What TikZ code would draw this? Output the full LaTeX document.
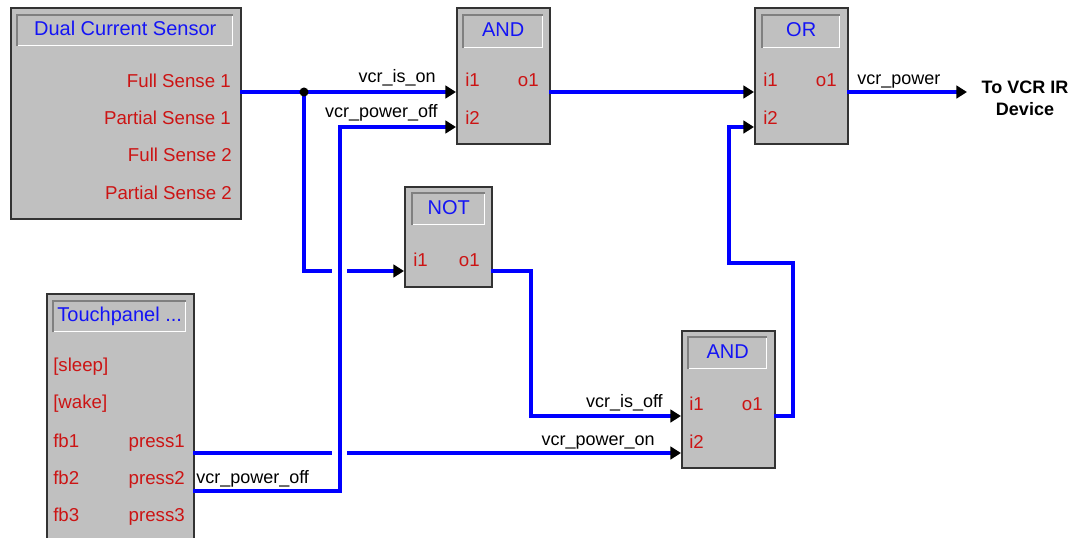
\documentclass[tikz,border=0pt]{standalone}
\usepackage{fontspec}
\setmainfont{Liberation Sans}
\usetikzlibrary{arrows.meta}

\definecolor{boxgray}{RGB}{192,192,192}
\definecolor{portred}{RGB}{204,20,20}
\definecolor{wireblue}{RGB}{0,0,255}
\definecolor{titleblue}{RGB}{20,20,245}

\def\u{0.75pt}

\tikzset{
  block/.style={draw=black!80, line width=1.4pt, fill=boxgray, anchor=north west, inner sep=0pt},
  titlebox/.style={draw=white, line width=1.1pt, fill=boxgray, anchor=north west, inner sep=0pt,
    text=titleblue, font=\fontsize{15}{18}\selectfont, text height=0.72em, text depth=0pt},
  titleshade/.style={draw=gray, line width=1.1pt},
  port/.style={text=portred, font=\fontsize{14}{16}\selectfont, inner sep=0pt},
  signal/.style={text=black, font=\fontsize{13.5}{16}\selectfont, inner sep=0pt},
  wire/.style={wireblue, line width=2.6pt},
  sink/.style={-{Triangle[length=8pt, width=9.5pt, color=black]}}
}

\begin{document}
\begin{tikzpicture}[x=0.75pt,y=-0.75pt]
\useasboundingbox (0,0) rectangle (1082,537);
\clip (0,0) rectangle (1082,537);

% blocks
\node[block, minimum width=230*\u, minimum height=211*\u] (dcs) at (10,7) {};
\node[titlebox, minimum width=215*\u, minimum height=30*\u] (dcs-t) at (17,15) {Dual Current Sensor};
\node[block, minimum width=93*\u, minimum height=136*\u] (and1) at (456,7) {};
\node[titlebox, minimum width=79*\u, minimum height=32*\u] (and1-t) at (463,15) {AND};
\node[block, minimum width=93*\u, minimum height=136*\u] (or) at (754,7) {};
\node[titlebox, minimum width=77*\u, minimum height=32*\u] (or-t) at (762,15) {OR};
\node[block, minimum width=87*\u, minimum height=100*\u] (not) at (404,186) {};
\node[titlebox, minimum width=72*\u, minimum height=31*\u] (not-t) at (412,193) {NOT};
\node[block, minimum width=93*\u, minimum height=137*\u] (and2) at (681,330) {};
\node[titlebox, minimum width=78*\u, minimum height=31*\u] (and2-t) at (688,337) {AND};
\node[block, minimum width=147*\u, minimum height=260*\u] (tp) at (46,293) {};
\node[titlebox, minimum width=132*\u, minimum height=30*\u] (tp-t) at (53,301) {Touchpanel ...};

\foreach \t in {dcs-t, and1-t, or-t, not-t, and2-t, tp-t}
  \draw[titleshade] (\t.south west) -- (\t.north west) -- (\t.north east);

% port labels
\node[port, anchor=base east] (dcs-fs1) at (231,87) {Full Sense 1};
\node[port, anchor=base east] (dcs-ps1) at (231,124) {Partial Sense 1};
\node[port, anchor=base east] (dcs-fs2) at (232,161.5) {Full Sense 2};
\node[port, anchor=base east] (dcs-ps2) at (232,199) {Partial Sense 2};

\node[port, anchor=base west] (and1-l1) at (465,86.5) {i1};
\node[port, anchor=base west] (and1-l2) at (465,124) {i2};
\node[port, anchor=base east] (and1-lo) at (539,86.5) {o1};

\node[port, anchor=base west] (or-l1) at (763,86.5) {i1};
\node[port, anchor=base west] (or-l2) at (763,124) {i2};
\node[port, anchor=base east] (or-lo) at (837,86.5) {o1};

\node[port, anchor=base west] (not-l1) at (413,266) {i1};
\node[port, anchor=base east] (not-lo) at (480,266) {o1};

\node[port, anchor=base west] (and2-l1) at (689,410) {i1};
\node[port, anchor=base west] (and2-l2) at (689,448) {i2};
\node[port, anchor=base east] (and2-lo) at (763,410) {o1};

\node[port, anchor=base west] (tp-sleep) at (53,371) {[sleep]};
\node[port, anchor=base west] (tp-wake) at (53,408.5) {[wake]};
\node[port, anchor=base west] (tp-fb1) at (53,447) {fb1};
\node[port, anchor=base west] (tp-fb2) at (53,484) {fb2};
\node[port, anchor=base west] (tp-fb3) at (53,521.5) {fb3};
\node[port, anchor=base east] (tp-p1) at (185,447) {press1};
\node[port, anchor=base east] (tp-p2) at (185,484) {press2};
\node[port, anchor=base east] (tp-p3) at (185,521.5) {press3};

% pins
\coordinate (dcs-o) at (240,92);
\coordinate (and1-i1) at (456,92);
\coordinate (and1-i2) at (456,127);
\coordinate (and1-o) at (549,92);
\coordinate (or-i1) at (754,92);
\coordinate (or-i2) at (754,127);
\coordinate (or-o) at (847,92);
\coordinate (not-i1) at (404,271);
\coordinate (not-o) at (491,271);
\coordinate (and2-i1) at (681,416);
\coordinate (and2-i2) at (681,453);
\coordinate (and2-o) at (774,416);
\coordinate (tp-o1) at (193,453);
\coordinate (tp-o2) at (193,491);
\coordinate (vcr) at (967,92);

\coordinate (jn) at (304,92);
\coordinate (gapa) at (332,271);
\coordinate (gapb) at (347,271);
\coordinate (gapc) at (332,453);
\coordinate (gapd) at (347,453);

% wires
\draw[wire, sink] (dcs-o) -- (and1-i1);
\draw[wire] (jn) |- (gapa);
\draw[wire, sink] (gapb) -- (not-i1);
\draw[wire, sink] (tp-o2) -| (340,127) -- (and1-i2);
\draw[wire] (tp-o1) -- (gapc);
\draw[wire, sink] (gapd) -- (and2-i2);
\draw[wire, sink] (not-o) -| (531,416) -- (and2-i1);
\draw[wire, sink] (and2-o) -| (793,263) -| (729,127) -- (or-i2);
\draw[wire, sink] (and1-o) -- (or-i1);
\draw[wire, sink] (or-o) -- (vcr);
\fill (jn) circle[radius=3.4pt];

% signal names
\node[signal, anchor=base east] (s-ison) at (436,82) {vcr\_is\_on};
\node[signal, anchor=base east] (s-off1) at (438,117) {vcr\_power\_off};
\node[signal, anchor=base west] (s-off2) at (196,483) {vcr\_power\_off};
\node[signal, anchor=base east] (s-on) at (655,445) {vcr\_power\_on};
\node[signal, anchor=base east] (s-isoff) at (663,407) {vcr\_is\_off};
\node[signal, anchor=base west] (s-pwr) at (857,84) {vcr\_power};
\node[font=\bfseries\fontsize{13.5}{16.5}\selectfont, align=center, anchor=north, inner sep=0pt]
  (dev) at (1025,81) {To VCR IR\\Device};
\end{tikzpicture}
\end{document}
